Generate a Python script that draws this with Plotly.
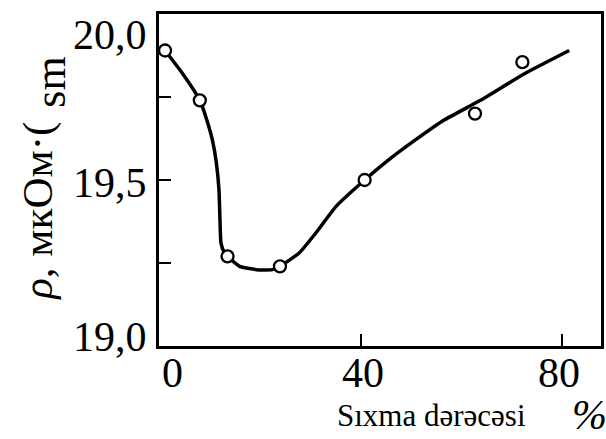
import plotly.graph_objects as go

# measured points (Sıxma dərəcəsi %, ρ)
pts_x = [1.2, 8.1, 13.6, 24.0, 40.8, 62.7, 72.1]
pts_y = [19.89, 19.74, 19.27, 19.24, 19.50, 19.70, 19.855]

# smooth fitted curve
curve_x = [1.2, 4.7, 8.1, 9.5, 10.6, 11.4, 11.9, 12.1, 12.3, 13.0, 13.6, 16.0,
           19.3, 22.5, 24.0, 27.8, 31.1, 35.1, 40.8, 45.5, 50.8, 56.5, 63.8,
           72.5, 81.4]
curve_y = [19.89, 19.82, 19.74, 19.68, 19.62, 19.55, 19.47, 19.38, 19.31, 19.28,
           19.27, 19.24, 19.23, 19.23, 19.24, 19.28, 19.34, 19.42, 19.50, 19.56,
           19.62, 19.68, 19.74, 19.82, 19.89]

x_tick_vals = [0, 40, 80]
x_tick_text = ["0", "40", "80"]
y_tick_vals = [19.0, 19.5, 20.0]
y_tick_text = ["19,0", "19,5", "20,0"]
y_minor_vals = [19.25, 19.5, 19.75]

FONT = "Liberation Serif"

fig = go.Figure()
fig.add_trace(go.Scatter(x=curve_x, y=curve_y, mode="lines",
                         line=dict(color="black", width=3.5, shape="spline", smoothing=0.5),
                         hoverinfo="skip", showlegend=False))
fig.add_trace(go.Scatter(x=pts_x, y=pts_y, mode="markers",
                         marker=dict(symbol="circle", size=12, color="white",
                                     line=dict(color="black", width=2.3)),
                         showlegend=False))

annotations = []
x_shifts = {0: 13, 40: 2, 80: -3}
for v, t in zip(x_tick_vals, x_tick_text):
    annotations.append(dict(x=v, xref="x", y=0, yref="paper", text=t, showarrow=False,
                            xanchor="center", yanchor="top", yshift=-2,
                            xshift=x_shifts[v],
                            font=dict(family=FONT, size=42, color="black")))
y_shifts = {19.0: 9, 19.5: -3, 20.0: -21}
for v, t in zip(y_tick_vals, y_tick_text):
    annotations.append(dict(x=0, xref="paper", y=v, yref="y", text=t, showarrow=False,
                            xanchor="right", yanchor="middle", xshift=-10,
                            yshift=y_shifts[v],
                            font=dict(family=FONT, size=42, color="black")))

annotations += [
    dict(x=37, y=211, xref="paper", yref="paper", text="<i>ρ</i>, мкОм·(",
         textangle=-90, showarrow=False, xanchor="center", yanchor="middle",
         font=dict(family=FONT, size=43, color="black")),
    dict(x=49, y=82, xref="paper", yref="paper", text="sm",
         textangle=-90, showarrow=False, xanchor="center", yanchor="middle",
         font=dict(family=FONT, size=44, color="black")),
    dict(x=433, y=415, xref="paper", yref="paper", text="Sıxma dərəcəsi",
         showarrow=False, xanchor="center", yanchor="middle",
         font=dict(family=FONT, size=31, color="black")),
    dict(x=592, y=415, xref="paper", yref="paper", text="<i>%</i>",
         showarrow=False, xanchor="center", yanchor="middle",
         font=dict(family=FONT, size=42, color="black")),
]

# convert pixel-based paper positions for the free texts
W, H = 606, 439
L, R, T, B = 159, 2, 14, 93
pw, ph = W - L - R, H - T - B
for a in annotations[-4:]:
    px, py = a["x"], a["y"]
    a["x"] = (px - L) / pw
    a["y"] = (H - B - py) / ph

fig.update_layout(
    width=W, height=H,
    margin=dict(l=L, r=R, t=T, b=B),
    paper_bgcolor="white", plot_bgcolor="white",
    annotations=annotations,
    xaxis=dict(range=[0, 87.7], showline=True, mirror=True, linecolor="black",
               linewidth=3, ticks="inside", tickvals=[40, 80], ticklen=12,
               tickwidth=2, tickcolor="black", showticklabels=False,
               showgrid=False, zeroline=False),
    yaxis=dict(range=[19.0, 20.0], showline=True, mirror=True, linecolor="black",
               linewidth=3, ticks="inside", tickvals=y_minor_vals, ticklen=12,
               tickwidth=2, tickcolor="black", showticklabels=False,
               showgrid=False, zeroline=False),
)

fig.write_html("out.html")
